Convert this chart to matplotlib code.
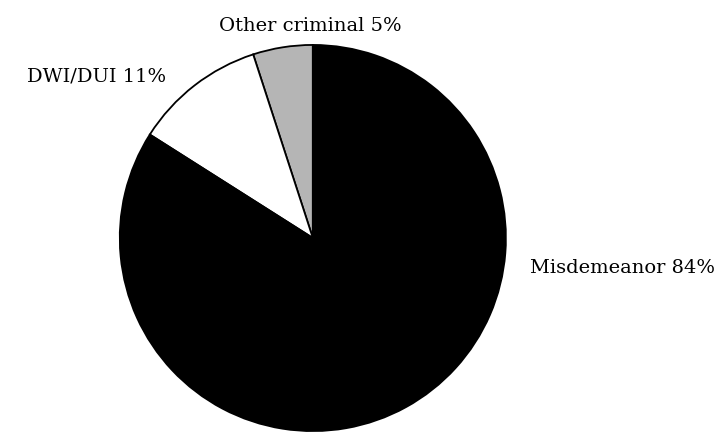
import matplotlib.pyplot as plt

# Data
categories = ['Other criminal', 'DWI/DUI', 'Misdemeanor']
shares = [5, 11, 84]
colors = ['#b5b5b5', '#ffffff', '#000000']

fig = plt.figure(figsize=(7.23, 4.34), dpi=100)
ax = fig.add_axes([0.163, 0.0023, 0.5394, 0.8986])

wedges, _ = ax.pie(shares, colors=colors, startangle=90, counterclock=True,
                   radius=1, wedgeprops=dict(edgecolor='black', linewidth=1.3))
ax.set_xlim(-1.01, 1.01)
ax.set_ylim(-1.01, 1.01)
ax.set_aspect('equal')
ax.axis('off')

# Label positions (data units, relative to pie)
label_pos = [(-0.015, 1.10), (-1.12, 0.836), (1.605, -0.154)]
for name, val, (x, y) in zip(categories, shares, label_pos):
    ax.text(x, y, f'{name} {val}%', ha='center', va='center',
            fontsize=14, family='DejaVu Serif', clip_on=False)

fig.savefig('out.png', dpi=100)
